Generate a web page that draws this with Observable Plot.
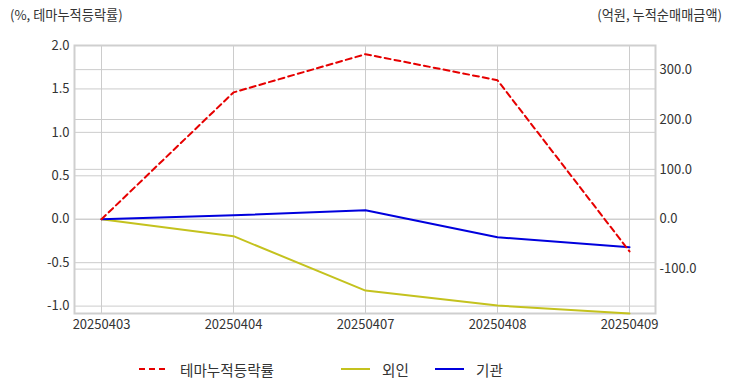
<!DOCTYPE html>
<html>
<head>
<meta charset="utf-8">
<script src="https://cdn.jsdelivr.net/npm/d3@7"></script>
<script src="https://cdn.jsdelivr.net/npm/@observablehq/plot@0.6"></script>
<style>
  html, body { margin: 0; padding: 0; background: #fff; }
  body { width: 732px; height: 392px; position: relative; overflow: hidden;
         font-family: "Noto Sans CJK KR", "Noto Sans", sans-serif; color: #333; }
  .lab { position: absolute; top: 7px; font-size: 13.2px; color: #333; z-index: 2; line-height: 16px; }
  #chart { position: absolute; left: 0; top: 0; z-index: 1; }
  #legend { position: absolute; top: 359px; left: 0; width: 732px; height: 20px; font-size: 14.6px; z-index: 2; }
  .item { position: absolute; top: 0; display: flex; align-items: center; height: 20px; }
  .item svg { margin-right: 12px; }
</style>
</head>
<body>
<div id="chart"></div>
<div class="lab" style="left:10px">(%, 테마누적등락률)</div>
<div class="lab" style="right:10px">(억원, 누적순매매금액)</div>
<div id="legend"></div>
<script>
const dates = ["20250403", "20250404", "20250407", "20250408", "20250409"];
const themeRate = [0.0, 1.46, 1.90, 1.60, -0.37];      // left axis (%)
const foreign = [0, -34, -143, -173, -189];           // right axis (억원)
const institution = [0, 8, 18, -36, -56];             // right axis (억원)
const leftTicks = [-1.0, -0.5, 0.0, 0.5, 1.0, 1.5, 2.0];
const rightTicks = [-100, 0, 100, 200, 300];
const seriesNames = ["테마누적등락률", "외인", "기관"];
const seriesColors = ["#e60000", "#c4c21e", "#0000dd"];

const k = 174.2; // right-axis units per left-axis unit
const toLeft = v => v / k;

const rows = (vals, conv) => dates.map((d, i) => ({ d, v: conv ? conv(vals[i]) : vals[i] }));

const chart = Plot.plot({
  width: 732,
  height: 340,
  marginLeft: 74,
  marginRight: 77,
  marginTop: 45,
  marginBottom: 27,
  style: { fontFamily: '"Noto Sans CJK KR", "Noto Sans", sans-serif', fontSize: "13px", color: "#333", background: "transparent" },
  x: { type: "point", domain: dates, padding: 0.2 },
  y: { domain: [-1.085, 2.0] },
  marks: [
    Plot.gridX(dates, { stroke: "#cccccc", strokeOpacity: 1, strokeWidth: 1 }),
    Plot.gridY(leftTicks, { stroke: "#cccccc", strokeOpacity: 1, strokeWidth: 1 }),
    Plot.gridY(rightTicks.map(toLeft), { stroke: "#cccccc", strokeOpacity: 1, strokeWidth: 1 }),
    Plot.frame({ stroke: "#cfcfcf", strokeWidth: 2 }),
    Plot.axisX({ tickSize: 0, tickPadding: 6, label: null, fontSize: 13 }),
    Plot.axisY(leftTicks, { anchor: "left", tickSize: 0, tickPadding: 5, label: null, tickFormat: d => d.toFixed(1), fontSize: 13 }),
    Plot.axisY(rightTicks.map(toLeft), { anchor: "right", tickSize: 0, tickPadding: 4, label: null, tickFormat: d => (Math.round(d * k)).toFixed(1), fontSize: 13 }),
    Plot.line(rows(foreign, toLeft), { x: "d", y: "v", stroke: seriesColors[1], strokeWidth: 2 }),
    Plot.line(rows(institution, toLeft), { x: "d", y: "v", stroke: seriesColors[2], strokeWidth: 2 }),
    Plot.line(rows(themeRate), { x: "d", y: "v", stroke: seriesColors[0], strokeWidth: 2, strokeDasharray: "6,4" })
  ]
});
document.getElementById("chart").appendChild(chart);

const legend = document.getElementById("legend");
const lefts = [139, 341, 435];
seriesNames.forEach((name, i) => {
  const it = document.createElement("div");
  it.className = "item";
  it.style.left = lefts[i] + "px";
  const dash = i === 0 ? 'stroke-dasharray="6,4"' : "";
  it.innerHTML = `<svg width="29" height="6"><line x1="0" y1="3" x2="29" y2="3" stroke="${seriesColors[i]}" stroke-width="2" ${dash}/></svg><span>${name}</span>`;
  legend.appendChild(it);
});
</script>
</body>
</html>
